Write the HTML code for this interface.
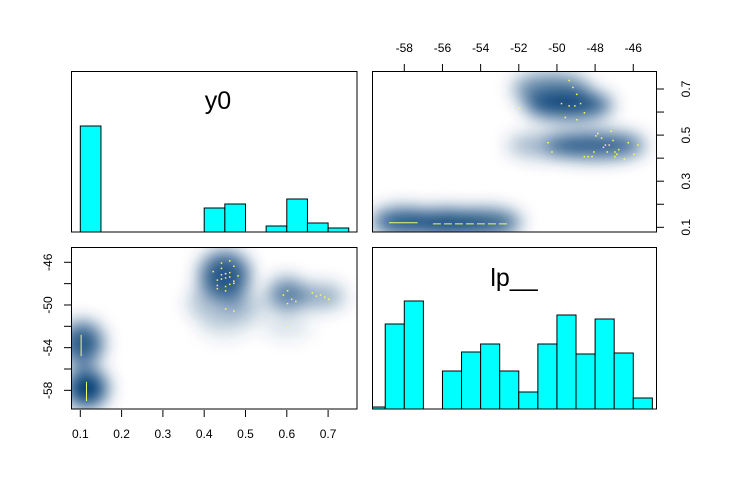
<!DOCTYPE html>
<html><head><meta charset="utf-8"><style>
body{margin:0;background:#fff}
svg{display:block;font-family:"Liberation Sans",Arial,sans-serif}
</style></head><body>
<svg id="chart" width="731" height="480" viewBox="0 0 731 480" xmlns="http://www.w3.org/2000/svg">
<defs>
<filter id="blur" x="-50%" y="-50%" width="200%" height="200%"><feGaussianBlur stdDeviation="9"/></filter>
<clipPath id="clipBL"><rect x="71" y="247" width="286" height="162"/></clipPath>
<clipPath id="clipTR"><rect x="372" y="72" width="284" height="160"/></clipPath>
<clipPath id="clipBR"><rect x="372" y="247" width="284" height="163"/></clipPath>
</defs>
<g id="root"></g>
</svg>
<script>
// y0 histogram (bins of 0.05 starting at 0.10)
const y0BinStart = 0.10;
const y0Counts = [106,0,0,0,0,0,24,28,0,6,33,9,4];
// lp__ histogram (bins of 1 starting at -60)
const lpBinStart = -60;
const lpCounts = [2,85,108,0,38,57,65,38,17,65,94,55,90,56,11];
// density blobs (bottom-left): y0 center, lp center, spreads, intensity
const blobY0 = [0.115,0.105,0.45,0.60,0.68,0.45,0.60,0.43,0.50];
const blobLp = [-57.8,-53.6,-47.2,-49.0,-49.2,-52.0,-52.0,-49.8,-50.2];
const blobSY0 = [0.05,0.05,0.06,0.045,0.06,0.06,0.06,0.07,0.05];
const blobSLp = [1.8,2.0,2.2,1.5,1.1,1.1,1.1,1.8,1.4];
const blobI = [1.0,0.85,0.85,0.65,0.45,0.15,0.15,0.3,0.25];
// top-right blobs (lp on x, y0 on y)
const trLp = [-58.0,-55.8,-53.8,-50.3,-49.4,-48.0,-50.6];
const trY0 = [0.125,0.12,0.12,0.70,0.63,0.455,0.455];
const trSLp = [1.7,1.9,1.9,2.0,2.3,2.6,2.0];
const trSY0 = [0.055,0.055,0.055,0.07,0.06,0.055,0.05];
const trI = [0.9,0.95,0.85,0.6,0.9,0.85,0.4];
// yellow outlier points (y0, lp)
const ptY0 = [0.44,0.45,0.46,0.43,0.47,0.45,0.44,0.46,0.42,0.48,0.45,0.43,0.47,0.44,0.46,0.45,0.59,0.60,0.61,0.60,0.62,0.66,0.68,0.69,0.70,0.67,0.45,0.47,0.60,0.44,0.46,0.45,0.43,0.47];
const ptLp = [-46.5,-47.0,-47.3,-47.6,-47.9,-48.2,-46.0,-45.8,-46.8,-47.2,-48.6,-48.4,-46.3,-47.5,-48.0,-47.0,-49.0,-48.6,-49.4,-49.8,-49.6,-48.8,-49.0,-49.2,-49.4,-49.1,-50.3,-50.5,-52.0,-47.1,-46.9,-47.4,-48.1,-47.7];

const root = document.getElementById('root');
const NS = 'http://www.w3.org/2000/svg';
function el(tag, attrs, parent){const e=document.createElementNS(NS,tag);for(const k in attrs)e.setAttribute(k,attrs[k]);(parent||root).appendChild(e);return e;}

const xY0 = v => 80.3 + (v-0.1)*413;
const yLp = v => 262.3 + (-46 - v)*10.67;
const xLp = v => 404.3 + (v+58)*19.08;
const yY0 = v => 89 + (0.7 - v)*230.5;

// Top-left: y0 histogram
const gTL = el('g',{});


y0Counts.forEach((c,i)=>{ if(!c) return;
  const x0=xY0(y0BinStart+i*0.05), x1=xY0(y0BinStart+(i+1)*0.05);
  const r=el('rect',{x:x0,y:232-c,width:x1-x0,height:c,fill:'#00ffff',stroke:'#000','stroke-width':1},gTL);
  
  
});
const b1=el('rect',{x:71.5,y:71.5,width:285.5,height:160.5,fill:'none',stroke:'#000'});


const t1=el('text',{x:218,y:109,'font-size':25,'text-anchor':'middle'});t1.textContent='y0';



// Bottom-right: lp histogram
const gBR = el('g',{'clip-path':'url(#clipBR)'});


lpCounts.forEach((c,i)=>{ if(!c) return;
  const x0=xLp(lpBinStart+i), x1=xLp(lpBinStart+i+1);
  const r=el('rect',{x:x0,y:409-c,width:x1-x0,height:c,fill:'#00ffff',stroke:'#000','stroke-width':1},gBR);
  
  
});
const b4=el('rect',{x:372.5,y:247.5,width:284,height:161.5,fill:'none',stroke:'#000'});


const t4=el('text',{x:514,y:286,'font-size':25,'text-anchor':'middle'});t4.textContent='lp__';



// Bottom-left density
const gBL = el('g',{'clip-path':'url(#clipBL)'});


const gBLb = el('g',{filter:'url(#blur)'},gBL);
blobY0.forEach((v,i)=>{
  const e=el('ellipse',{cx:xY0(v),cy:yLp(blobLp[i]),rx:blobSY0[i]*413,ry:blobSLp[i]*10.67,fill:'#063a72','fill-opacity':Math.min(1,blobI[i])},gBLb);
  
  
});
ptY0.forEach((v,i)=>{
  const p=el('rect',{x:xY0(v),y:yLp(ptLp[i]),width:1.5,height:1.5,fill:'#ffff40'},gBL);
  
  
});
[[0.102,-52.8,-54.8],[0.115,-57.2,-59.0]].forEach(s=>{
  const l=el('line',{x1:xY0(s[0]),x2:xY0(s[0]),y1:yLp(s[1]),y2:yLp(s[2]),stroke:'#e8ff60','stroke-width':1},gBL);
  
  
});
const b3=el('rect',{x:71.5,y:247.5,width:285.5,height:161.5,fill:'none',stroke:'#000'});



// Top-right density
const gTR = el('g',{'clip-path':'url(#clipTR)'});


const gTRb = el('g',{filter:'url(#blur)'},gTR);
trLp.forEach((v,i)=>{
  const e=el('ellipse',{cx:xLp(v),cy:yY0(trY0[i]),rx:trSLp[i]*19.08,ry:trSY0[i]*230.5,fill:'#063a72','fill-opacity':Math.min(1,trI[i])},gTRb);
  
  
});
ptY0.forEach((v,i)=>{
  const p=el('rect',{x:xLp(ptLp[i]),y:yY0(v+0.02*((i%5)-2)),width:1.5,height:1.5,fill:'#ffff40'},gTR);
  
  
});
[[-58.8,-57.3,0.12],[-56.5,-52.5,0.115]].forEach(s=>{
  const l=el('line',{x1:xLp(s[0]),x2:xLp(s[1]),y1:yY0(s[2]),y2:yY0(s[2]),stroke:'#e8ff60','stroke-width':1,'stroke-dasharray':s[0]<-57?'none':'8 3'},gTR);
  
  
});
const b2=el('rect',{x:372.5,y:71.5,width:284,height:160.5,fill:'none',stroke:'#000'});



// Axes (ticks only, no axis line)
const y0Ticks = [0.1,0.2,0.3,0.4,0.5,0.6,0.7];
const y0TickLabels = ['0.1','0.2','0.3','0.4','0.5','0.6','0.7'];
const lpTicksTop = [-58,-56,-54,-52,-50,-48,-46];
const lpTicksLeft = [-46,-48,-50,-52,-54,-56,-58];
const y0TicksRight = [0.1,0.2,0.3,0.4,0.5,0.6,0.7];

const ax = el('g',{'font-size':12,fill:'#000'});


y0Ticks.forEach((v,i)=>{
  el('line',{x1:xY0(v),x2:xY0(v),y1:410,y2:417,stroke:'#000'},ax);
  const t=el('text',{x:xY0(v),y:438,'text-anchor':'middle'},ax);t.textContent=y0TickLabels[i];
  
  
});
lpTicksLeft.forEach((v,i)=>{
  const y=yLp(v);
  el('line',{x1:64,x2:71,y1:y,y2:y,stroke:'#000'},ax);
  if(i%2===0){const t=el('text',{x:0,y:0,'text-anchor':'middle',transform:`translate(52,${y}) rotate(-90)`},ax);t.textContent=String(v);
  
  }
});
lpTicksTop.forEach(v=>{
  el('line',{x1:xLp(v),x2:xLp(v),y1:64,y2:71,stroke:'#000'},ax);
  const t=el('text',{x:xLp(v),y:52,'text-anchor':'middle'},ax);t.textContent=String(v);
  
  
});
y0TicksRight.forEach((v,i)=>{
  const y=yY0(v);
  el('line',{x1:657,x2:664,y1:y,y2:y,stroke:'#000'},ax);
  if(i%2===0){const t=el('text',{x:0,y:0,'text-anchor':'middle',transform:`translate(690,${y}) rotate(-90)`},ax);t.textContent=v.toFixed(1);
  
  }
});
</script>
</body></html>
